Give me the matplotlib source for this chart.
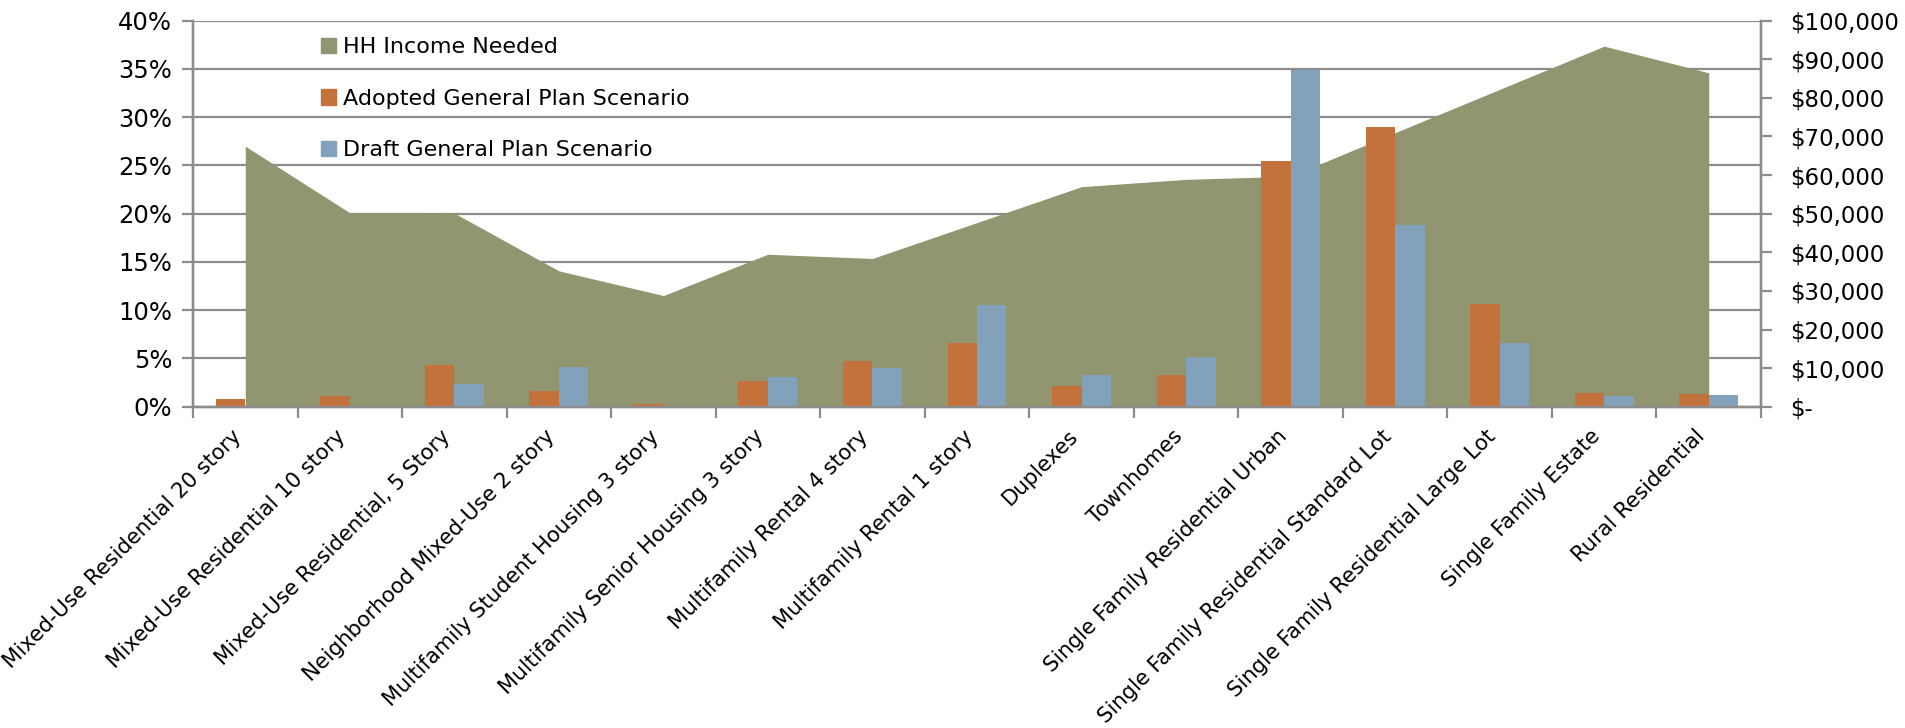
import numpy as np
import matplotlib
matplotlib.use('Agg')
import matplotlib.pyplot as plt
from matplotlib.patches import Patch
from matplotlib.ticker import FuncFormatter, MultipleLocator

categorias = ['Mixed-Use Residential 20 story', 'Mixed-Use Residential 10 story',
              'Mixed-Use Residential, 5 Story', 'Neighborhood Mixed-Use 2 story',
              'Multifamily Student Housing 3 story', 'Multifamily Senior Housing 3 story',
              'Multifamily Rental 4 story', 'Multifamily Rental 1 story', 'Duplexes',
              'Townhomes', 'Single Family Residential Urban',
              'Single Family Residential Standard Lot', 'Single Family Residential Large Lot',
              'Single Family Estate', 'Rural Residential']

ingreso = [67500, 50250, 50150, 35200, 28800, 39500, 38400, 47700, 57000,
           58900, 59700, 71000, 82200, 93400, 86500]
adoptado = [0.77, 1.1, 4.3, 1.6, 0.31, 2.66, 4.74, 6.57, 2.14, 3.32,
            25.43, 29.0, 10.64, 1.42, 1.35]
borrador = [0, 0, 2.35, 4.08, 0, 3.04, 3.98, 10.57, 3.32, 5.15,
            34.9, 18.86, 6.6, 1.11, 1.18]

series = ['HH Income Needed', 'Adopted General Plan Scenario', 'Draft General Plan Scenario']
c_area = '#929670'
c_adop = '#C4723C'
c_borr = '#82A2BC'
gris = '#8c8c8c'

plt.rcParams['font.family'] = ['DejaVu Sans']
plt.rcParams['font.size'] = 15

x = np.arange(len(categorias))
fig = plt.figure(figsize=(19.05, 7.28), dpi=100)
ax = fig.add_axes([0.1013, 0.4413, 0.8231, 0.5303])
ax2 = ax.twinx()
ax3 = ax.twinx()

# eje de porcentajes (izquierda) con la cuadricula
ax.set_ylim(0, 40)
ax.set_xlim(-0.5, len(categorias) - 0.5)
ax.yaxis.set_major_locator(MultipleLocator(5))
ax.yaxis.set_major_formatter(FuncFormatter(lambda v, p: '%d%%' % v))
ax.grid(True, axis='y', color=gris, linewidth=1.6)
ax.set_axisbelow(True)
ax.set_xticks(np.arange(-0.5, len(categorias), 1.0))
ax.set_xticklabels([])
ax.set_xticks(x, minor=True)
ax.set_xticklabels(categorias, minor=True, rotation=45, ha='right', va='top', fontsize=15.3)
ax.tick_params(axis='x', which='minor', length=0, pad=14)
ax.tick_params(axis='x', which='major', length=8, width=1.6, color=gris)
ax.tick_params(axis='y', length=8, width=1.6, color=gris, pad=7, labelsize=17.5)

# area de ingreso (derecha)
ax2.fill_between(x, ingreso, color=c_area, linewidth=0)
ax2.set_ylim(0, 100000)
ax2.yaxis.set_major_locator(MultipleLocator(10000))
ax2.yaxis.set_major_formatter(FuncFormatter(lambda v, p: '$-' if v == 0 else '${:,.0f}'.format(v)))
ax2.tick_params(axis='y', length=8, width=1.6, color=gris, pad=13, labelsize=16.5)

# barras
w = 0.282
ax3.bar(x - w / 2, adoptado, w, color=c_adop)
ax3.bar(x + w / 2, borrador, w, color=c_borr)
ax3.set_ylim(0, 40)
ax3.set_yticks([])

for a in (ax, ax2, ax3):
    a.spines['top'].set_visible(False)
    for s in ('left', 'right', 'bottom'):
        a.spines[s].set_color(gris)
        a.spines[s].set_linewidth(1.6)

handles = [Patch(color=c) for c in (c_area, c_adop, c_borr)]
ax3.legend(handles, series, loc='upper left', bbox_to_anchor=(0.0816, 0.957),
           frameon=False, fontsize=16, handlelength=0.7, handleheight=0.7,
           handletextpad=0.3, labelspacing=1.42, borderpad=0, borderaxespad=0)

plt.savefig('out.png', dpi=100)
